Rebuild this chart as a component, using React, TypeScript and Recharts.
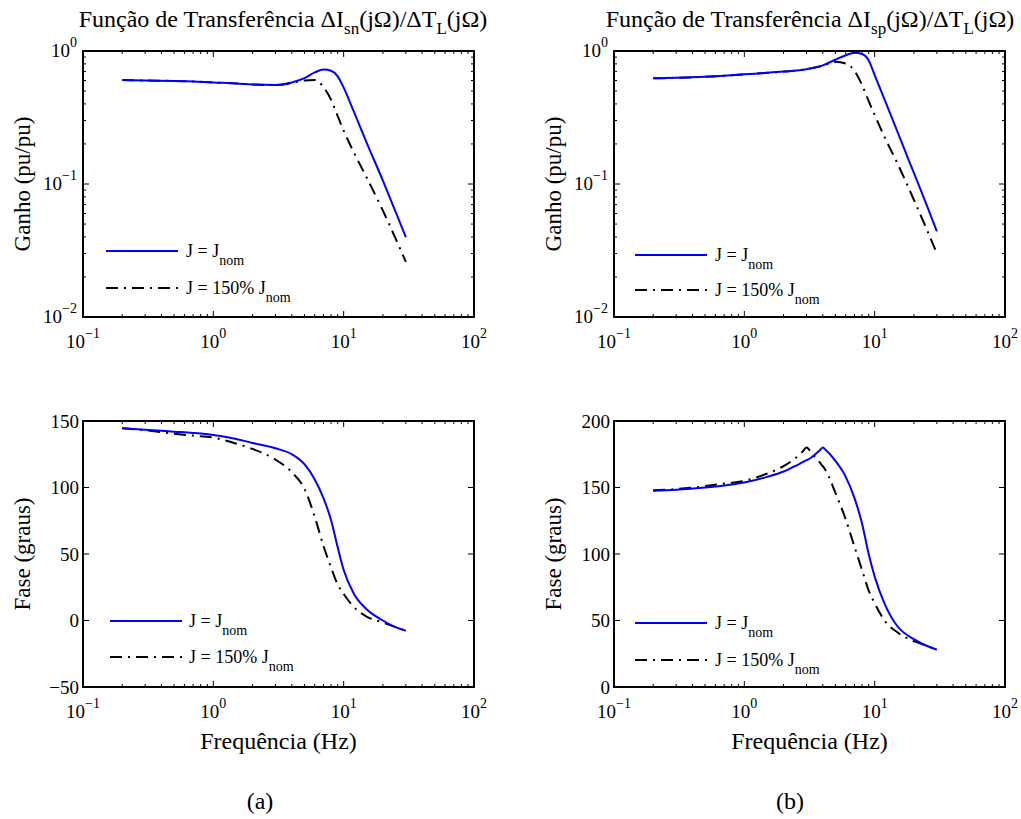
import React from 'react';
import { LineChart, Line, XAxis, YAxis, ReferenceArea } from 'recharts';

// frequency points (Hz)
const freq = [0.2, 0.3, 0.5, 0.7, 1, 1.5, 2, 3, 4, 5, 6, 7, 8, 9, 10, 12, 15, 20, 25, 30];
const freqB = [0.2, 0.3, 0.5, 0.7, 1, 1.5, 2, 2.5, 2.8, 3, 3.2, 3.5, 3.8, 4, 4.2, 5, 6, 7, 8, 9, 10, 12, 15, 20, 25, 30];

// gain (pu/pu)
const gainSnNom = [0.605, 0.6, 0.595, 0.59, 0.58, 0.57, 0.56, 0.555, 0.58, 0.625, 0.69, 0.725, 0.71, 0.645, 0.53, 0.348, 0.205, 0.106, 0.062, 0.0398];
const gainSn150 = [0.605, 0.6, 0.595, 0.59, 0.58, 0.57, 0.56, 0.555, 0.575, 0.6, 0.605, 0.535, 0.43, 0.324, 0.252, 0.172, 0.112, 0.063, 0.039, 0.026];
const gainSpNom = [0.623, 0.628, 0.64, 0.652, 0.668, 0.685, 0.7, 0.73, 0.78, 0.86, 0.93, 0.97, 0.95, 0.85, 0.66, 0.423, 0.245, 0.121, 0.07, 0.044];
const gainSp150 = [0.623, 0.628, 0.64, 0.652, 0.668, 0.685, 0.7, 0.73, 0.775, 0.83, 0.805, 0.71, 0.555, 0.42, 0.33, 0.222, 0.142, 0.076, 0.046, 0.03];

// phase (graus)
const phaseSnNom = [144.5, 143.5, 142, 141, 139.5, 136.5, 133.5, 129.5, 125, 117.5, 106, 92, 75.5, 55, 38, 20, 8.5, 0, -5, -7.7];
const phaseSn150 = [144.5, 143, 140.5, 139, 137.5, 133, 129, 121, 111.5, 99, 78, 56, 40, 27, 20, 10, 3, -1.5, -5, -7.7];
const phaseSpNom = [147.5, 148.3, 150, 151.5, 153.7, 158, 162, 166.5, 169, 170.5, 172, 175, 178, 180, 178.3, 170, 158, 142, 123, 100, 83, 62, 45.5, 36, 31, 28];
const phaseSp150 = [148, 148.8, 151, 153, 155, 160.5, 166, 172.5, 177, 180, 177.5, 173, 168.7, 166, 163, 146, 126, 105.5, 88, 72.5, 63, 49.5, 41, 34.5, 31, 28];

// ticks
const xTicks = [0.1, 0.2, 0.3, 0.4, 0.5, 0.6, 0.7, 0.8, 0.9, 1, 2, 3, 4, 5, 6, 7, 8, 9, 10, 20, 30, 40, 50, 60, 70, 80, 90, 100];
const gainTicks = [0.01, 0.02, 0.03, 0.04, 0.05, 0.06, 0.07, 0.08, 0.09, 0.1, 0.2, 0.3, 0.4, 0.5, 0.6, 0.7, 0.8, 0.9, 1];
const phaseSnTicks = [-50, 0, 50, 100, 150];
const phaseSpTicks = [0, 50, 100, 150, 200];

const PL = 83;
const PT = 51;
const PW = 391;
const PH = 266;
const CW = 510;
const CH = 400;
const FONT = '"Liberation Serif", "Times New Roman", serif';
const DASHDOT = '12 6 2 6';

const toRows = (xs: number[], a: number[], b: number[]) => xs.map((f, i) => ({ f, nom: a[i], j150: b[i] }));

const isDecade = (v: number) => Math.abs(Math.log10(v) - Math.round(Math.log10(v))) < 1e-9;
const expText = (v: number) => {
  const e = Math.round(Math.log10(v));
  return e < 0 ? '\u2212' + Math.abs(e) : String(e);
};

const XTick = (props: any) => {
  const { x, y, payload } = props;
  const v = payload.value;
  const major = isDecade(v);
  const len = major ? 6 : 3;
  return (
    <g>
      <line x1={x} x2={x} y1={y} y2={y - len} stroke="#000" strokeWidth={1} />
      <line x1={x} x2={x} y1={y - PH} y2={y - PH + len} stroke="#000" strokeWidth={1} />
      {major && (
        <text x={x} y={y + 31} textAnchor="middle" fontSize={19} fontFamily={FONT} fill="#000">
          10<tspan dy={-10} fontSize={14}>{expText(v)}</tspan>
        </text>
      )}
    </g>
  );
};

const YTick = (props: any) => {
  const { x, y, payload, isLog } = props;
  const v = payload.value;
  const major = isLog ? isDecade(v) : true;
  const len = major ? 6 : 3;
  return (
    <g>
      <line x1={x} x2={x + len} y1={y} y2={y} stroke="#000" strokeWidth={1} />
      <line x1={x + PW} x2={x + PW - len} y1={y} y2={y} stroke="#000" strokeWidth={1} />
      {major && isLog && (
        <text x={x - 6} y={y + 6} textAnchor="end" fontSize={19} fontFamily={FONT} fill="#000">
          10<tspan dy={-10} fontSize={14}>{expText(v)}</tspan>
        </text>
      )}
      {major && !isLog && (
        <text x={x - 4} y={y} textAnchor="end" dominantBaseline="central" fontSize={19} fontFamily={FONT} fill="#000">
          {v < 0 ? '\u2212' + Math.abs(v) : v}
        </text>
      )}
    </g>
  );
};

interface PanelProps {
  left: number;
  top: number;
  data: { f: number; nom: number; j150: number }[];
  isLog: boolean;
  domain: [number, number];
  ticks: number[];
}

const Panel = ({ left, top, data, isLog, domain, ticks }: PanelProps) => (
  <div style={{ position: 'absolute', left, top }}>
    <LineChart width={CW} height={CH} data={data} margin={{ top: PT, left: PL - 60, right: CW - PL - PW, bottom: CH - PT - PH - 40 }}>
      <XAxis
        dataKey="f"
        type="number"
        scale="log"
        domain={[0.1, 100]}
        allowDataOverflow
        ticks={xTicks}
        interval={0}
        height={40}
        tickSize={0}
        tickMargin={0}
        tickLine={false}
        axisLine={false}
        tick={(p: any) => <XTick {...p} />}
      />
      <YAxis
        type="number"
        scale={isLog ? 'log' : 'linear'}
        domain={domain}
        allowDataOverflow
        ticks={ticks}
        interval={0}
        width={60}
        tickSize={0}
        tickMargin={0}
        tickLine={false}
        axisLine={false}
        tick={(p: any) => <YTick {...p} isLog={isLog} />}
      />
      <Line type="monotone" dataKey="j150" stroke="#000" strokeWidth={2} strokeDasharray={DASHDOT} dot={false} isAnimationActive={false} />
      <Line type="monotone" dataKey="nom" stroke="#0000ff" strokeWidth={2} dot={false} isAnimationActive={false} />
      <ReferenceArea x1={0.1} x2={100} y1={domain[0]} y2={domain[1]} fill="none" stroke="#000" strokeWidth={2} ifOverflow="visible" />
    </LineChart>
  </div>
);

interface LegendSpec {
  px: number;
  py: number;
  line: [number, number];
  textX: number;
  rows: [number, number];
}

const LegendBox = ({ px, py, line, textX, rows }: LegendSpec) => {
  const bottom = py + PH;
  return (
    <g fontFamily={FONT} fill="#000">
      <line x1={px + line[0]} x2={px + line[1]} y1={bottom + rows[0]} y2={bottom + rows[0]} stroke="#0000ff" strokeWidth={2} />
      <text x={px + textX} y={bottom + rows[0]} dominantBaseline="central" fontSize={18}>
        J = J<tspan dy={9} fontSize={14}>nom</tspan>
      </text>
      <line x1={px + line[0]} x2={px + line[1]} y1={bottom + rows[1]} y2={bottom + rows[1]} stroke="#000" strokeWidth={2} strokeDasharray={DASHDOT} />
      <text x={px + textX} y={bottom + rows[1]} dominantBaseline="central" fontSize={18}>
        J = 150% J<tspan dy={9} fontSize={14}>nom</tspan>
      </text>
    </g>
  );
};

const Title = ({ cx, sub }: { cx: number; sub: string }) => (
  <text x={cx} y={27} textAnchor="middle" fontSize={24} fontFamily={FONT} fill="#000">
    Função de Transferência ΔI<tspan dy={7} fontSize={17}>{sub}</tspan>
    <tspan dy={-7}>(jΩ)/ΔT</tspan>
    <tspan dy={7} fontSize={17}>L</tspan>
    <tspan dy={-7}>(jΩ)</tspan>
  </text>
);

const YLabel = ({ x, y, text }: { x: number; y: number; text: string }) => (
  <text x={x} y={y} transform={`rotate(-90 ${x} ${y})`} textAnchor="middle" dominantBaseline="central" fontSize={23} fontFamily={FONT} fill="#000">
    {text}
  </text>
);

const App = () => {
  const L = 0;
  const R = 531;
  const T = 0;
  const B = 370;
  return (
    <div style={{ position: 'absolute', left: 0, top: 0, width: 1021, height: 819, background: '#fff', fontFamily: FONT }}>
      <Panel left={L} top={T} data={toRows(freq, gainSnNom, gainSn150)} isLog domain={[0.01, 1]} ticks={gainTicks} />
      <Panel left={R} top={T} data={toRows(freq, gainSpNom, gainSp150)} isLog domain={[0.01, 1]} ticks={gainTicks} />
      <Panel left={L} top={B} data={toRows(freq, phaseSnNom, phaseSn150)} isLog={false} domain={[-50, 150]} ticks={phaseSnTicks} />
      <Panel left={R} top={B} data={toRows(freqB, phaseSpNom, phaseSp150)} isLog={false} domain={[0, 200]} ticks={phaseSpTicks} />
      <svg width={1021} height={819} style={{ position: 'absolute', left: 0, top: 0, pointerEvents: 'none' }}>
        <Title cx={283} sub="sn" />
        <Title cx={810} sub="sp" />
        <YLabel x={22} y={PT + PH / 2} text="Ganho (pu/pu)" />
        <YLabel x={22 + R} y={PT + PH / 2} text="Ganho (pu/pu)" />
        <YLabel x={22} y={B + PT + PH / 2} text="Fase (graus)" />
        <YLabel x={22 + R} y={B + PT + PH / 2} text="Fase (graus)" />
        <text x={PL + PW / 2} y={749} textAnchor="middle" fontSize={24} fontFamily={FONT}>Frequência (Hz)</text>
        <text x={R + PL + PW / 2} y={749} textAnchor="middle" fontSize={24} fontFamily={FONT}>Frequência (Hz)</text>
        <text x={260} y={809} textAnchor="middle" fontSize={24} fontFamily={FONT}>(a)</text>
        <text x={790} y={809} textAnchor="middle" fontSize={24} fontFamily={FONT}>(b)</text>
        <LegendBox px={L + PL} py={T + PT} line={[23, 95]} textX={103} rows={[-66, -29]} />
        <LegendBox px={R + PL} py={T + PT} line={[21, 93]} textX={101} rows={[-62, -27]} />
        <LegendBox px={L + PL} py={B + PT} line={[27, 99]} textX={106} rows={[-66, -30]} />
        <LegendBox px={R + PL} py={B + PT} line={[21, 93]} textX={101} rows={[-64, -27]} />
      </svg>
    </div>
  );
};

export default App;
